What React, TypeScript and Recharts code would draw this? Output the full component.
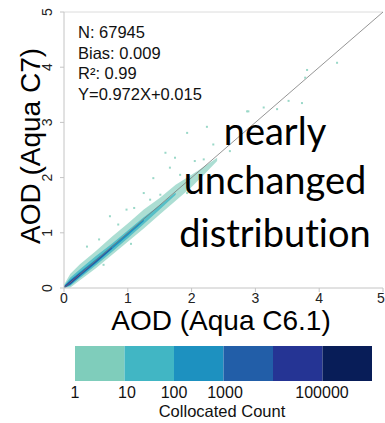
import { ComposedChart, Area, Scatter, XAxis, YAxis, ReferenceLine } from 'recharts';

// AOD grid along the C6.1 axis, used for the density bands
const aodX = [0, 0.1, 0.25, 0.5, 0.75, 1, 1.25, 1.5, 1.75, 2, 2.2, 2.4];

// density bands, [low, high] of C7 AOD at each aodX (null = no data)
const band1: ([number, number] | null)[] = [
  [0, 0.06], [0.01, 0.26], [0.14, 0.43], [0.36, 0.67], [0.6, 0.93], [0.84, 1.17],
  [1.08, 1.42], [1.33, 1.63], [1.58, 1.87], [1.83, 2.05], [2.06, 2.2], [2.3, 2.36],
];
const band2: ([number, number] | null)[] = [
  [0, 0.04], [0.04, 0.19], [0.18, 0.34], [0.41, 0.58], [0.65, 0.8], [0.9, 1.04],
  [1.16, 1.28], [1.42, 1.5], [1.69, 1.73], null, null, null,
];
const band3: ([number, number] | null)[] = [
  [0, 0.03], [0.06, 0.15], [0.21, 0.29], [0.45, 0.52], [0.7, 0.76], [0.95, 1.0],
  [1.21, 1.24], null, null, null, null, null,
];
const band4: ([number, number] | null)[] = [
  [0, 0.025], [0.07, 0.13], [0.22, 0.27], [0.46, 0.5], [0.71, 0.74], null,
  null, null, null, null, null, null,
];
const band5: ([number, number] | null)[] = [
  [0, 0.02], [0.08, 0.12], [0.23, 0.26], null, null, null,
  null, null, null, null, null, null,
];

// sparse single-count pixels outside the main band
const outlierX = [0.72, 1.59, 1.93, 2.34, 2.87, 1.35, 1.66, 0.98, 0.36, 2.19, 1.74, 1.4, 1.25, 1.51, 1.93,
  3.81, 4.28, 3.13, 2.89, 3.73, 2.24, 3.34, 3.78, 3.52, 2.6, 0.55, 0.85, 1.1, 0.62, 1.05, 1.82, 2.05];
const outlierY = [1.3, 2.45, 2.81, 2.6, 3.2, 1.6, 2.18, 1.42, 0.75, 2.33, 2.36, 1.99, 1.72, 1.69, 1.72,
  3.95, 4.08, 3.27, 3.2, 3.35, 2.92, 3.24, 3.81, 3.39, 2.48, 0.88, 1.15, 1.45, 0.42, 0.8, 2.05, 2.3];

const ticks = [0, 1, 2, 3, 4, 5];
const stats = ['N: 67945', 'Bias: 0.009', 'R²: 0.99', 'Y=0.972X+0.015'];
const note = ['nearly', 'unchanged', 'distribution'];
const noteBaseline = [145, 194, 247];
const countColors = ['#7fcdbb', '#41b6c4', '#1d91c0', '#225ea8', '#253494', '#081d58'];
const countLabels = [
  { text: '1', x: 75 },
  { text: '10', x: 127 },
  { text: '100', x: 174 },
  { text: '1000', x: 225 },
  { text: '100000', x: 322 },
];

const data = aodX.map((x, i) => ({
  x,
  b1: band1[i], b2: band2[i], b3: band3[i], b4: band4[i], b5: band5[i],
}));
const outliers = outlierX.map((x, i) => ({ x, y: outlierY[i] }));

const font = '"Liberation Sans", Arial, sans-serif';
const gray = '#c4c4c4';

const YTick = ({ y, payload }: any) => (
  <text transform={`translate(52,${y}) rotate(-90)`} textAnchor="middle" fontSize={14} fontFamily={font} fill="#222">
    {payload.value}
  </text>
);

const XTick = ({ x, payload }: any) => (
  <text x={x} y={303} textAnchor="middle" fontSize={14} fontFamily={font} fill="#222">
    {payload.value}
  </text>
);

const Pixel = ({ cx, cy }: any) => <rect x={cx - 1} y={cy - 1} width={2} height={2} fill="#9ad8c8" />;

export default function App() {
  return (
    <div style={{ position: 'absolute', left: 0, top: 0, width: 385, height: 423, background: '#fff' }}>
      <ComposedChart width={385} height={340} data={data} margin={{ top: 12, right: 2, left: 0, bottom: 0 }}>
        <XAxis
          type="number" dataKey="x" domain={[0, 5]} ticks={ticks} height={52}
          axisLine={{ stroke: gray }} tickLine={{ stroke: gray }} tickSize={4} tick={<XTick />}
        />
        <YAxis
          type="number" domain={[0, 5]} ticks={ticks} width={64}
          axisLine={{ stroke: gray }} tickLine={{ stroke: gray }} tickSize={4} tick={<YTick />}
        />
        <ReferenceLine y={5} stroke="#dcdcdc" />
        <Area dataKey="b1" fill={countColors[0]} fillOpacity={0.65} stroke="none" isAnimationActive={false} />
        <Area dataKey="b2" fill={countColors[1]} fillOpacity={0.8} stroke="none" isAnimationActive={false} />
        <Area dataKey="b3" fill={countColors[2]} fillOpacity={1} stroke="none" isAnimationActive={false} />
        <Area dataKey="b4" fill={countColors[3]} fillOpacity={1} stroke="none" isAnimationActive={false} />
        <Area dataKey="b5" fill={countColors[4]} fillOpacity={1} stroke="none" isAnimationActive={false} />
        <Scatter data={outliers} dataKey="y" shape={<Pixel />} isAnimationActive={false} />
        <ReferenceLine segment={[{ x: 0, y: 0 }, { x: 5, y: 5 }]} stroke="#7a7a7a" strokeWidth={0.8} />
      </ComposedChart>

      <svg width={385} height={423} style={{ position: 'absolute', left: 0, top: 0, pointerEvents: 'none' }}>
        {stats.map((s, i) => (
          <text key={s} x={78} y={38 + i * 20.7} fontSize={16.5} fontFamily={font} fill="#111">{s}</text>
        ))}
        {note.map((s, i) => (
          <text
            key={s} x={275} y={noteBaseline[i]} textAnchor="middle" fontSize={38}
            fontFamily="Lato, sans-serif" fill="#000" style={{ fontVariantLigatures: 'none' }}
          >
            {s}
          </text>
        ))}
        <text transform="translate(40,146) rotate(-90)" textAnchor="middle" fontSize={28} fontFamily={font} fill="#000">
          AOD (Aqua C7)
        </text>
        <text x={221} y={330} textAnchor="middle" fontSize={28} fontFamily={font} fill="#000">AOD (Aqua C6.1)</text>
        {countColors.map((c, i) => (
          <rect key={c} x={75 + i * 49.5} y={346} width={49.5} height={35} fill={c} />
        ))}
        {countLabels.map((l) => (
          <text key={l.text} x={l.x} y={398} textAnchor="middle" fontSize={16} fontFamily={font} fill="#111">{l.text}</text>
        ))}
        <text x={222} y={417} textAnchor="middle" fontSize={16.5} fontFamily={font} fill="#111">Collocated Count</text>
      </svg>
    </div>
  );
}
